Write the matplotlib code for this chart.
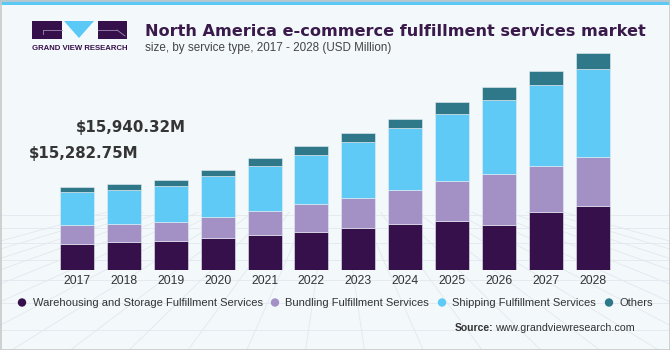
from __future__ import annotations

import numpy as np
from matplotlib import pyplot as plt
from matplotlib.lines import Line2D
from matplotlib.patches import Ellipse, Polygon, Rectangle

years = ["2017", "2018", "2019", "2020", "2021", "2022",
         "2023", "2024", "2025", "2026", "2027", "2028"]
warehousing = [4800, 5150, 5365, 5920, 6420, 7030, 7715, 8510, 9065, 8325, 10675, 11785]
bundling = [3520, 3400, 3515, 3940, 4550, 5125, 5605, 6290, 7400, 9380, 8565, 9120]
shipping = [6040, 6330, 6715, 7530, 8270, 9175, 10415, 11415, 12340, 13745, 14930, 16280]
others = [922.75, 1060.32, 1000, 1110, 1535, 1555, 1665, 1775, 2220, 2405, 2590, 3015]
series_names = [
    "Warehousing and Storage Fulfillment Services",
    "Bundling Fulfillment Services",
    "Shipping Fulfillment Services",
    "Others",
]
callouts = {0: "$15,282.75M", 1: "$15,940.32M"}

COLORS = ["#36104A", "#A391C6", "#5FCAF6", "#2E7889"]
BG = "#F3F8FB"
TEXT_DARK = "#3A1A4A"
FONT = ["Liberation Sans", "DejaVu Sans"]

W, H = 670, 350


def px(x: float, y: float) -> tuple[float, float]:
    # pixel coords (origin top-left) -> figure fraction
    return x / W, 1 - y / H


def draw_background(fig: plt.Figure) -> None:
    fig.patch.set_facecolor(BG)
    # faint perspective mesh in the lower part
    mesh = "#E2E8ED"
    for y in [215, 228, 243, 260, 280, 303, 330]:
        fig.add_artist(Line2D([0, 1], [1 - y / H] * 2, color=mesh, lw=0.6, zorder=0))
    for x0 in np.linspace(-400, 1070, 26):
        fig.add_artist(Line2D([335 / W, x0 / W], [1 - 150 / H, 1 - 350 / H],
                              color=mesh, lw=0.6, zorder=0))
    # hide the upper part of the radial lines
    fig.add_artist(Rectangle((0, 1 - 212 / H), 1, 212 / H, transform=fig.transFigure,
                             facecolor=BG, edgecolor="none", zorder=0.5))
    # top stripe and border
    fig.add_artist(Rectangle((0, 1 - 5 / H), 1, 5 / H, transform=fig.transFigure,
                             facecolor="#5BC9F5", edgecolor="none", zorder=1))
    fig.add_artist(Rectangle((0.5 / W, 0.5 / H), 1 - 1 / W, 1 - 1 / H, transform=fig.transFigure,
                             facecolor="none", edgecolor="#C8C8C8", lw=1.2, zorder=1))


def draw_logo(fig: plt.Figure) -> None:
    dark = "#36104A"
    for x0, x1 in [(32, 62), (98, 127)]:
        (a, b), (c, d) = px(x0, 39), px(x1, 21)
        fig.add_artist(Rectangle((a, b), c - a, d - b, transform=fig.transFigure,
                                 facecolor=dark, edgecolor="none", zorder=2))
    fig.add_artist(Polygon([px(64, 21), px(94, 21), px(79, 38)], closed=True,
                           transform=fig.transFigure, facecolor="#5BC9F5",
                           edgecolor="none", zorder=2))
    # thin marks inside the squares
    for p0, p1 in [((43, 30), (62, 30)), ((43, 30), (43, 34)),
                   ((98, 30), (117, 30)), ((117, 30), (125, 36))]:
        fig.add_artist(Line2D(*zip(px(*p0), px(*p1)), color="#9C8CB0", lw=0.6, zorder=3))
    fig.text(*px(79.5, 48), "GRAND VIEW RESEARCH", ha="center", va="center",
             fontsize=5.6, fontweight="bold", color=dark, family=FONT)


def draw_chart(fig: plt.Figure) -> plt.Axes:
    ax = fig.add_axes((48.9 / W, 80 / H, 572 / W, 230 / H))
    ax.set_zorder(5)
    ax.set_facecolor("none")
    x = np.arange(len(years))
    bottom = np.zeros(len(years))
    for values, color, name in zip([warehousing, bundling, shipping, others], COLORS, series_names):
        ax.bar(x, values, width=0.725, bottom=bottom, color=color, label=name,
               edgecolor="#E8EEF3", linewidth=0.4, zorder=3)
        bottom += np.array(values)

    for idx, label in callouts.items():
        ax.annotate(label, (x[idx], bottom[idx]), xytext=(4.7, 24.5 if idx == 0 else 40.5),
                    textcoords="offset points", ha="center", va="center",
                    fontsize=10.8, fontweight="bold", color="#353535", family="DejaVu Sans")

    ax.set_xlim(-0.6, len(years) - 0.4)
    ax.set_ylim(0, 230 * 185)
    ax.set_xticks(x, years)
    ax.tick_params(axis="x", length=0, pad=3.5, labelsize=8.7, labelcolor="#333333")
    for tick in ax.get_xticklabels():
        tick.set_family(FONT)
    ax.set_yticks([])
    for spine in ax.spines.values():
        spine.set_visible(False)
    return ax


def draw_legend(fig: plt.Figure) -> None:
    items = [(22, 33), (275, 285), (442, 452), (609, 620)]
    for (dot_x, text_x), color, name in zip(items, COLORS, series_names):
        fig.add_artist(Ellipse(px(dot_x, 302.5), 8.4 / W, 8.4 / H, transform=fig.transFigure,
                               facecolor=color, edgecolor="none", zorder=3))
        fig.text(*px(text_x, 302.5), name, ha="left", va="center", fontsize=8.0,
                 color="#333333", family=FONT)


def draw_source(fig: plt.Figure) -> None:
    url = fig.text(*px(635, 328), "www.grandviewresearch.com", ha="right", va="center",
                   fontsize=7.7, color="#333333", family=FONT)
    renderer = fig.canvas.get_renderer()
    left = url.get_window_extent(renderer).x0
    fig.text((left - 2) / W, 1 - 328 / H, "Source:", ha="right", va="center",
             fontsize=7.5, fontweight="bold", color="#333333", family=FONT)


def main() -> None:
    fig = plt.figure(figsize=(6.7, 3.5), dpi=100)
    draw_background(fig)
    draw_logo(fig)
    fig.text(*px(145, 31), "North America e-commerce fulfillment services market",
             ha="left", va="center", fontsize=11.6, fontweight="bold",
             color=TEXT_DARK, family="DejaVu Sans")
    fig.text(*px(145, 48), "size, by service type, 2017 - 2028 (USD Million)",
             ha="left", va="center", fontsize=8.4, color="#444444", family=FONT)
    draw_chart(fig)
    draw_legend(fig)
    draw_source(fig)
    fig.savefig("out.png", dpi=100, facecolor=fig.get_facecolor())
    plt.close(fig)


if __name__ == "__main__":
    main()
